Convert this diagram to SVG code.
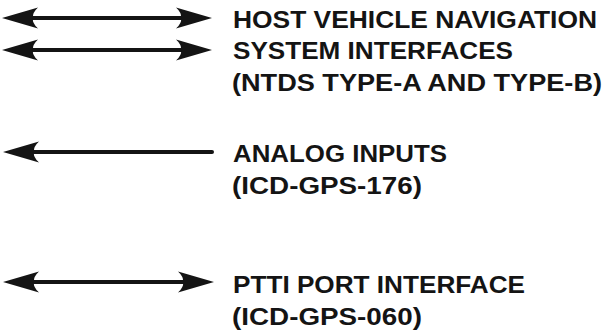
<svg xmlns="http://www.w3.org/2000/svg" width="614" height="335" viewBox="0 0 614 335">
<style>
.lbl{font-family:"Liberation Sans",Arial,sans-serif;font-weight:bold;font-size:23px;fill:#141414}
.conn{stroke:#141414;stroke-width:4;fill:none}
</style>
<defs>
<marker id="ah" markerUnits="userSpaceOnUse" viewBox="0 0 36 22" refX="8" refY="11" markerWidth="36" markerHeight="22" orient="auto-start-reverse">
<path d="M36,11 L0,0.5 Q6,6 5,11 Q6,16 0,21.5 Z" fill="#141414"/>
</marker>
</defs>
<rect width="614" height="335" fill="#ffffff"/>
<g id="connectors">
<line class="conn" x1="30" y1="18" x2="184" y2="18" marker-start="url(#ah)" marker-end="url(#ah)"/>
<line class="conn" x1="30" y1="50" x2="184" y2="50" marker-start="url(#ah)" marker-end="url(#ah)"/>
<path class="conn" d="M31,152 L212,152" stroke-linecap="round" marker-start="url(#ah)"/>
<line class="conn" x1="31" y1="282" x2="186" y2="282" marker-start="url(#ah)" marker-end="url(#ah)"/>
</g>
<g id="host-nav">
<text class="lbl" x="233" y="28" textLength="364" lengthAdjust="spacingAndGlyphs">HOST VEHICLE NAVIGATION</text>
<text class="lbl" x="233" y="59" textLength="280" lengthAdjust="spacingAndGlyphs">SYSTEM INTERFACES</text>
<text class="lbl" x="232" y="91" textLength="370" lengthAdjust="spacingAndGlyphs">(NTDS TYPE-A AND TYPE-B)</text>
</g>
<g id="analog">
<text class="lbl" x="233" y="162" textLength="214" lengthAdjust="spacingAndGlyphs">ANALOG INPUTS</text>
<text class="lbl" x="232" y="194" textLength="190" lengthAdjust="spacingAndGlyphs">(ICD-GPS-176)</text>
</g>
<g id="ptti">
<text class="lbl" x="233" y="293" textLength="292" lengthAdjust="spacingAndGlyphs">PTTI PORT INTERFACE</text>
<text class="lbl" x="232" y="325" textLength="190" lengthAdjust="spacingAndGlyphs">(ICD-GPS-060)</text>
</g>
</svg>
